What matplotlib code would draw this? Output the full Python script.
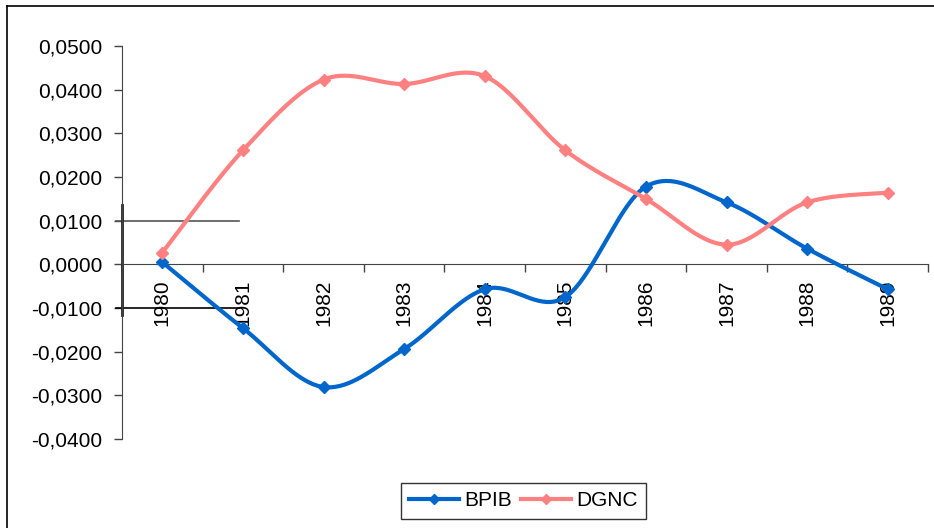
import numpy as np
import matplotlib
matplotlib.use("Agg")
import matplotlib.pyplot as plt
from matplotlib.lines import Line2D
from matplotlib.ticker import FixedLocator, FuncFormatter

plt.rcParams['font.family'] = ['Liberation Sans', 'DejaVu Sans']

# ── Data ──────────────────────────────────────────────────────────────────────
years = ['1980', '1981', '1982', '1983', '1984',
         '1985', '1986', '1987', '1988', '1989']
bpib = [0.0005, -0.0146, -0.0281, -0.0194, -0.0057,
        -0.0075, 0.0178, 0.0142, 0.0036, -0.0057]
dgnc = [0.0027, 0.0261, 0.0423, 0.0413, 0.0431,
        0.0261, 0.0150, 0.0045, 0.0142, 0.0164]

BLUE = '#0066CC'
PINK = '#FF8080'
FS = 15


def smooth(xs, ys, n=40):
    """Bezier smoothing as used by spreadsheet line charts (tension 1/6)."""
    p = np.column_stack([xs, ys]).astype(float)
    k = len(p)
    out = []
    for i in range(k - 1):
        p0 = p[max(i - 1, 0)]
        p1 = p[i]
        p2 = p[i + 1]
        p3 = p[min(i + 2, k - 1)]
        c1 = p1 + (p2 - p0) / 6.0
        c2 = p2 - (p3 - p1) / 6.0
        t = np.linspace(0, 1, n)[:, None]
        seg = ((1 - t) ** 3) * p1 + 3 * ((1 - t) ** 2) * t * c1 \
            + 3 * (1 - t) * t ** 2 * c2 + t ** 3 * p2
        out.append(seg if i == 0 else seg[1:])
    seg = np.vstack(out)
    return seg[:, 0], seg[:, 1]


W, H = 934, 528
fig = plt.figure(figsize=(W / 100, H / 100), dpi=100)
fig.patch.set_facecolor('white')

# chart area border (only top and left edges fall inside the image)
fig.add_artist(Line2D([7 / W, 1], [1 - 6 / H, 1 - 6 / H], color='black', lw=1.2))
fig.add_artist(Line2D([7 / W, 7 / W], [0, 1 - 6 / H], color='black', lw=1.2))

ax = fig.add_axes([122 / W, 1 - 439 / H, (928 - 122) / W, (439 - 46) / H])
ax.set_facecolor('none')

x = np.arange(len(years))
for vals, col in [(bpib, BLUE), (dgnc, PINK)]:
    sx, sy = smooth(x, vals)
    ax.plot(sx, sy, color=col, lw=3, solid_capstyle='round', zorder=3)
    ax.plot(x, vals, ls='none', marker='D', ms=6.5, color=col, zorder=4)

ax.set_xlim(-0.5, len(years) - 0.5)
ax.set_ylim(-0.04, 0.05)

for s in ['top', 'right']:
    ax.spines[s].set_visible(False)
ax.spines['bottom'].set_position(('data', 0))
ax.spines['left'].set_color('#444444')
ax.spines['bottom'].set_color('#444444')

ax.set_yticks(np.arange(-0.04, 0.0501, 0.01))
ax.yaxis.set_major_formatter(FuncFormatter(lambda v, _: f'{v:.4f}'.replace('.', ',')))
ax.tick_params(axis='y', direction='out', length=6, width=1, pad=8,
               labelsize=FS, color='#444444')

# boundary ticks between categories, labels at category centres
ax.xaxis.set_major_locator(FixedLocator(np.arange(-0.5, len(years), 1.0)))
ax.xaxis.set_major_formatter(FuncFormatter(lambda v, _: ''))
ax.xaxis.set_minor_locator(FixedLocator(x))
ax.set_xticklabels(years, minor=True, rotation=90, va='top', ha='center')
ax.tick_params(axis='x', which='major', direction='out', length=6, width=1,
               color='#444444')
ax.tick_params(axis='x', which='minor', length=0, pad=11, labelsize=FS)

# short reference lines near the vertical axis
ax.add_line(Line2D([-0.58, 0.95], [0.01, 0.01], color='#555555', lw=1.2, clip_on=False))
ax.add_line(Line2D([-0.58, 0.95], [-0.01, -0.01], color='black', lw=1.2, clip_on=False))
ax.add_line(Line2D([-0.5, -0.5], [0.0135, -0.0115], color='#222222', lw=2, clip_on=False))

handles = [Line2D([], [], color=BLUE, lw=3, marker='D', ms=5),
           Line2D([], [], color=PINK, lw=3, marker='D', ms=5)]
fig.legend(handles, ['BPIB', 'DGNC'], loc='center',
           bbox_to_anchor=((405 + 642) / 2 / W, 1 - 501 / H),
           ncol=2, frameon=True, fancybox=False, edgecolor='black',
           fontsize=FS, handlelength=2.4, handletextpad=0.25,
           columnspacing=0.45, borderpad=0.4, borderaxespad=0, numpoints=1)

fig.savefig('out.png', dpi=100, facecolor='white')
